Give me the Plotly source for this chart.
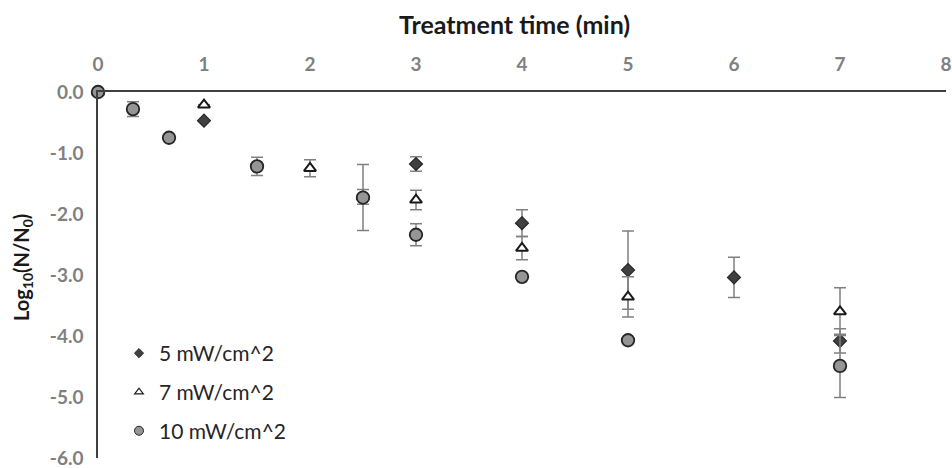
import plotly.graph_objects as go

# ---- data ----
t5 = [0, 1, 3, 4, 5, 6, 7]
y5 = [0, -0.47, -1.18, -2.15, -2.92, -3.04, -4.08]
e5 = [0, 0, 0.12, 0.22, 0.64, 0.33, 0.20]

t7 = [0, 1, 2, 2.5, 3, 4, 5, 7]
y7 = [0, -0.21, -1.25, -1.72, -1.77, -2.56, -3.36, -3.60]
e7 = [0, 0, 0.14, 0.12, 0.16, 0.19, 0.33, 0.39]

t10 = [0, 0.33, 0.67, 1.5, 2.5, 3, 4, 5, 7]
y10 = [0, -0.28, -0.75, -1.22, -1.73, -2.34, -3.03, -4.07, -4.49]
e10 = [0, 0.12, 0, 0.15, 0.54, 0.18, 0, 0, 0.52]

names = ["5 mW/cm^2", "7 mW/cm^2", "10 mW/cm^2"]
x_ticks = [0, 1, 2, 3, 4, 5, 6, 7, 8]
y_ticks = [0, -1, -2, -3, -4, -5, -6]
y_ticktext = [f"{float(v):.1f}" for v in y_ticks]

FONT = "Lato"
ERR = dict(type="data", visible=True, color="#808080", thickness=1.5, width=6)

# page body margin is reset to 0 below, so figure pixels == page pixels
W, H = 952, 468
L, T = 98, 92                      # plot left / top
RIGHT, BOTTOM = 946, 458           # plot right / bottom
R, B = W - RIGHT, H - BOTTOM
PW, PH = RIGHT - L, BOTTOM - T


def px_x(page_x):
    return (page_x - L) / PW


def px_y(page_y):
    return (BOTTOM - page_y) / PH


series = [
    (t5, y5, e5, dict(symbol="diamond", size=10, color="#404040",
                      line=dict(color="#262626", width=1.2))),
    (t7, y7, e7, dict(symbol="triangle-up", size=10.5, color="white",
                      line=dict(color="#1a1a1a", width=2))),
    (t10, y10, e10, dict(symbol="circle", size=12.5, color="#959595",
                         line=dict(color="#262626", width=1.8))),
]
legend_markers = [
    dict(symbol="diamond", size=7, color="#404040", line=dict(color="#262626", width=1)),
    dict(symbol="triangle-up", size=7.5, color="white", line=dict(color="#1a1a1a", width=1.2)),
    dict(symbol="circle", size=9, color="#959595", line=dict(color="#262626", width=1)),
]

fig = go.Figure()
for (x, y, e, mk), nm in zip(series, names):
    fig.add_trace(go.Scatter(x=x, y=y, mode="markers", marker=mk,
                             error_y=dict(array=e, **ERR),
                             showlegend=False, cliponaxis=False))
for i, (mk, nm) in enumerate(zip(legend_markers, names)):
    fig.add_trace(go.Scatter(x=[None], y=[None], mode="markers", marker=mk,
                             name=nm, legendgroup=f"g{i}", showlegend=True))

fig.update_layout(
    width=W, height=H,
    margin=dict(l=L, r=R, t=T, b=B),
    paper_bgcolor="white", plot_bgcolor="white",
    font=dict(family=FONT),
    showlegend=True,
    legend=dict(x=px_x(119), xanchor="left",
                y=px_y(333), yanchor="top",
                font=dict(family=FONT, size=21, color="#262626"),
                tracegroupgap=8.5, bgcolor="rgba(0,0,0,0)", itemwidth=30),
    xaxis=dict(range=[0, 8], side="top", tickvals=x_ticks,
               ticktext=[str(v) for v in x_ticks],
               tickfont=dict(family=FONT, size=19, color="#808080", weight="bold"),
               showline=True, linecolor="#404040", linewidth=1.5,
               showgrid=False, zeroline=False, ticks="", ticklabelstandoff=12,
               ticklabeloverflow="allow", automargin=False),
    yaxis=dict(range=[-6, 0], tickvals=y_ticks, ticktext=y_ticktext,
               tickfont=dict(family=FONT, size=19, color="#808080", weight="bold"),
               showline=True, linecolor="#404040", linewidth=1.5,
               showgrid=False, zeroline=False, ticks="", ticklabelstandoff=9,
               ticklabeloverflow="allow", automargin=False),
    annotations=[
        dict(text="<b>Treatment time (min)</b>", xref="paper", yref="paper",
             x=px_x(514), y=px_y(24), showarrow=False,
             xanchor="center", yanchor="middle",
             font=dict(family=FONT, size=25, color="#1a1a1a")),
        dict(text="<b>Log<sub>10</sub>(N/N<sub>0</sub>)</b>", xref="paper", yref="paper",
             x=px_x(22), y=px_y(268), textangle=-90, showarrow=False,
             xanchor="center", yanchor="middle",
             font=dict(family=FONT, size=20, color="#1a1a1a")),
    ],
)
fig.write_html("out.html",
               config={"displayModeBar": False},
               post_script="document.body.style.margin='0';"
                           "document.body.style.overflow='hidden';")
